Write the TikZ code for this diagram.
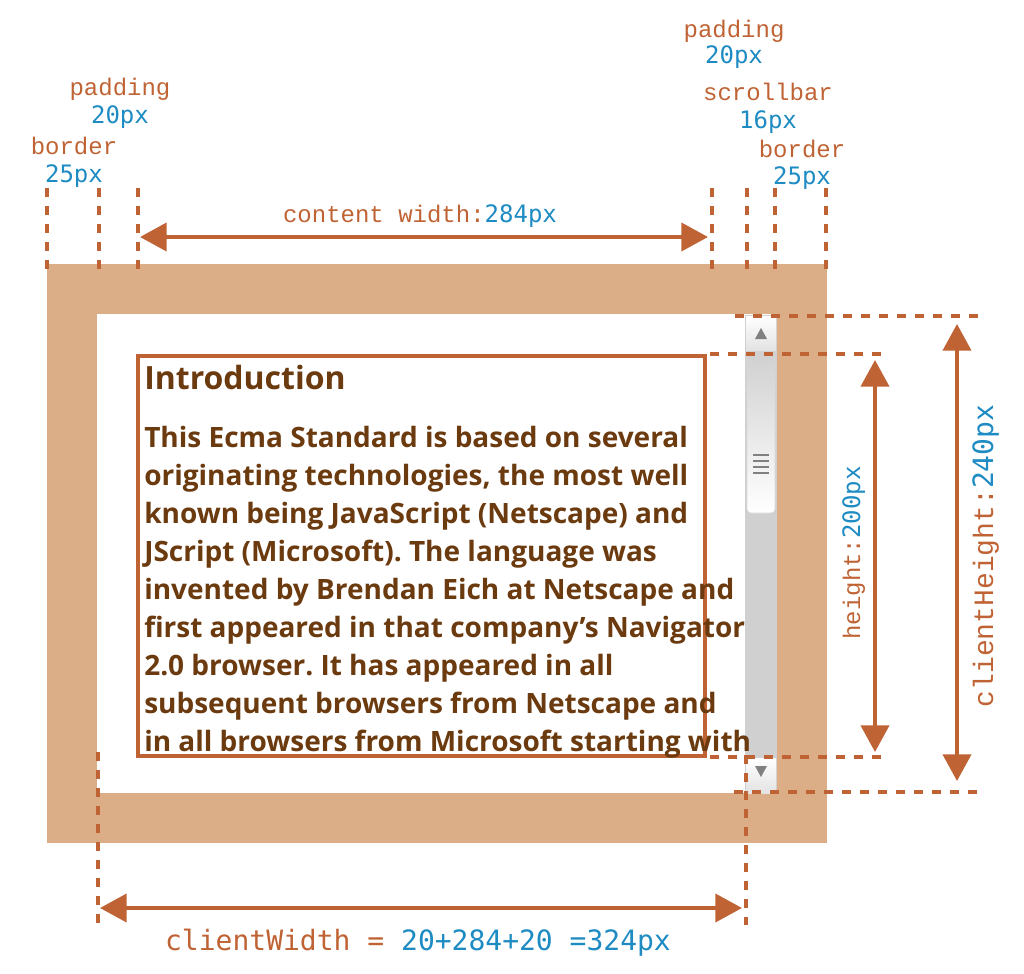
\documentclass[tikz,border=0pt]{standalone}
\usepackage{fontspec}
\setmainfont{Open Sans}
\newfontfamily\bodyfont{Open Sans}
\newfontfamily\wordfont{Liberation Mono}
\newfontfamily\numfont{DejaVu Sans Mono}
\usetikzlibrary{arrows.meta,positioning}
\frenchspacing
\definecolor{rust}{HTML}{C06334}
\definecolor{sky}{HTML}{1E8BC3}
\definecolor{tan}{HTML}{DBAE88}
\definecolor{ink}{HTML}{6B3A0E}
\definecolor{track}{HTML}{D0D0D0}
\definecolor{knob}{HTML}{808080}

\begin{document}
\begin{tikzpicture}[x=0.75pt,y=-0.75pt,
	guide/.style = {rust, line width=3pt, dash pattern=on 6.75pt off 6.75pt},
	dimarrow/.style = {rust, line width=3pt,
		{Triangle[length=20pt,width=21pt]}-{Triangle[length=20pt,width=21pt]}},
	word/.style = {text=rust, font=\wordfont\fontsize{18pt}{18pt}\selectfont, anchor=base, inner sep=0pt},
	num/.style = {text=sky, font=\numfont\fontsize{18pt}{18pt}\selectfont, anchor=base, inner sep=0pt},
	bigword/.style = {word, font=\wordfont\fontsize{21pt}{21pt}\selectfont},
	body line/.style = {text=ink, font=\bodyfont\bfseries\fontsize{21pt}{21pt}\selectfont, anchor=base west, inner sep=0pt}]
	
	\useasboundingbox (0,0) rectangle (1024,974);
	
	% border and padding box
	\fill[tan] (47,264) rectangle (827,843);
	\fill[white] (97,314) rectangle (777,793);
	
	% scrollbar
	\fill[track] (745,315) rectangle (777,794);
	\shade[top color=white, bottom color=track!60] (746,316) rectangle (776,350);
	\shade[top color=track, bottom color=white, draw=track!80, rounded corners=3pt] (747,352) rectangle (775,513);
	\foreach \y in {455,461,467,473}
		\draw[knob, line width=2pt] (753,\y) -- (769,\y);
	\fill[knob] (755,339) -- (767,339) -- (761,328) -- cycle;
	\shade[top color=white, bottom color=track!60] (746,758) rectangle (776,793);
	\fill[knob] (755,766) -- (767,766) -- (761,777) -- cycle;
	
	% content box
	\draw[rust, line width=2.5pt] (138,356) rectangle (705,756);
	\node[body line, font=\bodyfont\bfseries\fontsize{24pt}{24pt}\selectfont] (intro) at (144,389) {Introduction};
	\foreach \txt [count=\i] in {This Ecma Standard is based on several,
		{originating technologies, the most well},
		known being JavaScript (Netscape) and,
		JScript (Microsoft). The language was,
		invented by Brendan Eich at Netscape and,
		first appeared in that company’s Navigator,
		2.0 browser. It has appeared in all,
		subsequent browsers from Netscape and,
		in all browsers from Microsoft starting with}
		\node[body line] (line\i) at (144,409+38*\i) {\txt};
	
	% guides
	\foreach \x in {47,99,138,712,747,775,826}
		\draw[guide] (\x,188) -- (\x,270);
	\draw[guide] (98,752) -- (98,925);
	\draw[guide] (746,755) -- (746,925);
	\draw[guide] (735,316) -- (978,316);
	\draw[guide] (710,354) -- (882,354);
	\draw[guide] (710,757) -- (882,757);
	\draw[guide] (734,792) -- (978,792);
	
	% dimension arrows
	\coordinate (cw left) at (140,237);
	\coordinate (cw right) at (708,237);
	\coordinate (h top) at (875,360);
	\coordinate (h bottom) at (875,752);
	\coordinate (ch top) at (957,324);
	\coordinate (ch bottom) at (957,781);
	\coordinate (clw left) at (100,908);
	\coordinate (clw right) at (742,908);
	\draw[dimarrow] (cw left) -- (cw right);
	\draw[dimarrow] (h top) -- (h bottom);
	\draw[dimarrow] (ch top) -- (ch bottom);
	\draw[dimarrow] (clw left) -- (clw right);
	
	% labels
	\node[word] (pad l) at (120,95) {padding};
	\node[num] (pad l px) at (120,123) {20px};
	\node[word] (bor l) at (74,154) {border};
	\node[num] (bor l px) at (74,182) {25px};
	\node[word] (pad r) at (734,38) {padding};
	\node[num] (pad r px) at (734,64) {20px};
	\node[word] (scroll) at (768,100) {scrollbar};
	\node[num] (scroll px) at (768,128) {16px};
	\node[word] (bor r) at (802,157) {border};
	\node[num] (bor r px) at (802,184) {25px};
	\node[word] (cw label) at (420,222) {content width:{\numfont\color{sky}284px}};
	\node[word, rotate=90] (h label) at (860,553) {height:{\numfont\color{sky}200px}};
	\node[bigword, rotate=90] (ch label) at (993,556) {clientHeight:{\numfont\color{sky}240px}};
	\node[bigword, font=\numfont\fontsize{21pt}{21pt}\selectfont] (clw label) at (418,950) {clientWidth = {\color{sky}20+284+20 =324px}};
\end{tikzpicture}
\end{document}
